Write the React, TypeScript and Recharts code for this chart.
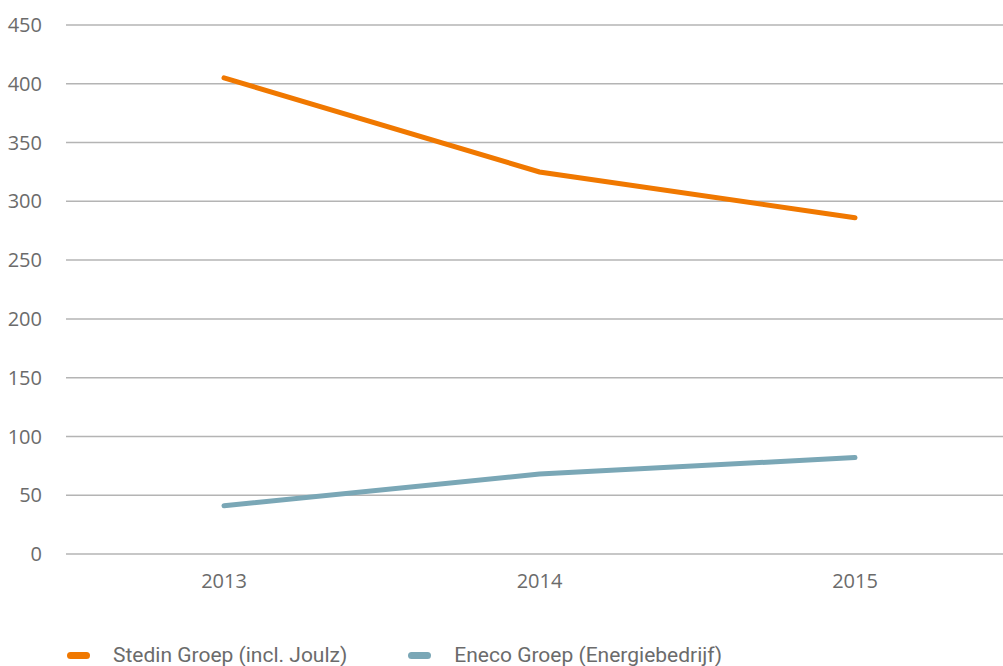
import { LineChart, Line, XAxis, YAxis, CartesianGrid, Legend } from "recharts";

const years = ["2013", "2014", "2015"];
const stedin = [405, 325, 286];
const eneco = [41, 68, 82];
const yTicks = [0, 50, 100, 150, 200, 250, 300, 350, 400, 450];

const SERIES = [
  { key: "stedin", name: "Stedin Groep (incl. Joulz)", color: "#F07800" },
  { key: "eneco", name: "Eneco Groep (Energiebedrijf)", color: "#7AA7B6" },
];

const data = years.map((year, i) => ({ year, stedin: stedin[i], eneco: eneco[i] }));

const TICK = { fontSize: 20, fill: "#6b6b6b", fontFamily: "Open Sans" };

function LegendContent() {
  return (
    <div style={{ display: "flex", height: 26, lineHeight: "26px", alignItems: "center", paddingTop: 4, boxSizing: "border-box", paddingLeft: 67, fontFamily: "'Liberation Sans Narrow', 'Roboto', sans-serif", fontSize: 21, color: "#6b6b6b" }}>
      {SERIES.map((s, i) => (
        <div key={s.key} style={{ display: "flex", alignItems: "center", marginRight: i === 0 ? 61 : 0 }}>
          <span style={{ display: "inline-block", width: 23, height: 7, borderRadius: 4, background: s.color, marginRight: 23 }} />
          <span style={{ whiteSpace: "nowrap" }}>{s.name}</span>
        </div>
      ))}
    </div>
  );
}

export default function App() {
  return (
    <div style={{ position: "fixed", left: 0, top: 0, width: 1003, height: 666, overflow: "hidden", background: "#fff" }}>
      <LineChart width={1012} height={666} data={data} margin={{ top: 25, right: 0, bottom: 0, left: 0 }}>
        <CartesianGrid vertical={false} stroke="#b4b4b4" strokeWidth={1.5} />
        <XAxis dataKey="year" axisLine={false} tickLine={false} tick={TICK} tickMargin={14} height={86} padding={{ left: 158, right: 157 }} />
        <YAxis domain={[0, 450]} ticks={yTicks} axisLine={false} tickLine={false} tick={TICK} width={66} tickMargin={18} />
        <Legend verticalAlign="bottom" align="left" content={LegendContent} />
        {SERIES.map((s) => (
          <Line key={s.key} dataKey={s.key} name={s.name} stroke={s.color} strokeWidth={5} strokeLinecap="round" dot={false} activeDot={false} isAnimationActive={false} />
        ))}
      </LineChart>
    </div>
  );
}
